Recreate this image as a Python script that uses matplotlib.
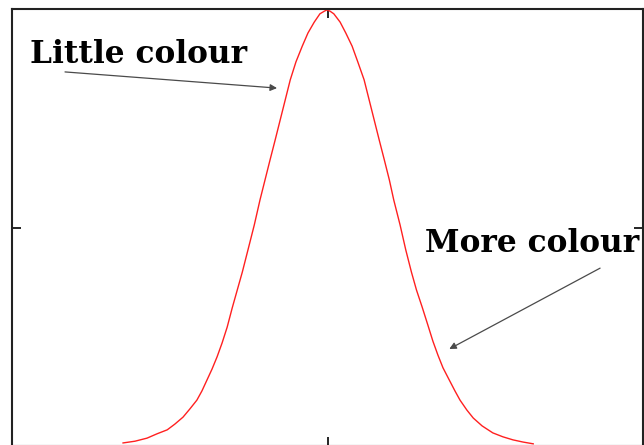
import matplotlib
matplotlib.use("Agg")
import matplotlib.pyplot as plt

# CURVE POINTS #####################################################

curve_x = [1.76, 1.95, 2.14, 2.30, 2.46, 2.58, 2.71, 2.82, 2.93, 3.01,
           3.09, 3.17, 3.25, 3.33, 3.41, 3.49, 3.57, 3.65, 3.74, 3.84,
           3.93, 4.01, 4.09, 4.17, 4.25, 4.33, 4.41, 4.50, 4.60, 4.69,
           4.79, 4.88, 4.95, 4.99,
           5.04, 5.10, 5.20, 5.29, 5.39, 5.48, 5.58, 5.66, 5.74, 5.82,
           5.90, 5.98, 6.05, 6.15, 6.24, 6.33, 6.41, 6.50, 6.59, 6.67,
           6.75, 6.83, 6.93, 7.02, 7.10, 7.21, 7.31, 7.45, 7.62, 7.78,
           7.94, 8.10, 8.26]
curve_y = [0.07, 0.11, 0.18, 0.28, 0.37, 0.50, 0.66, 0.85, 1.05, 1.26,
           1.51, 1.76, 2.04, 2.36, 2.72, 3.16, 3.57, 3.98, 4.49, 5.06,
           5.63, 6.09, 6.55, 7.00, 7.46, 7.92, 8.38, 8.79, 9.15, 9.45,
           9.70, 9.89, 9.95, 9.98,
           9.95, 9.89, 9.70, 9.45, 9.15, 8.79, 8.38, 7.92, 7.46, 7.00,
           6.55, 6.09, 5.63, 5.06, 4.49, 3.98, 3.57, 3.18, 2.77, 2.40,
           2.08, 1.79, 1.51, 1.26, 1.05, 0.82, 0.64, 0.46, 0.30, 0.21,
           0.14, 0.09, 0.05]

# LABELS ###########################################################

labels = ["Little colour", "More colour"]
label_pos = [(0.29, 8.76), (6.55, 4.44)]
arrow_tail = [(0.84, 8.56), (9.32, 4.07)]
arrow_tip = [(4.20, 8.19), (6.93, 2.22)]

# FIGURE ###########################################################

fig = plt.figure(figsize=(6.44, 4.45), dpi=100)
ax = fig.add_axes([12 / 644, -1 / 445, 631 / 644, 437 / 445])

ax.plot(curve_x, curve_y, color="#ff2020", linewidth=1.0)

for text, pos in zip(labels, label_pos):
    ax.text(pos[0], pos[1], text, fontsize=22.5, fontweight="bold",
            family="DejaVu Serif", ha="left", va="baseline")

for tail, tip in zip(arrow_tail, arrow_tip):
    ax.annotate("", xy=tip, xytext=tail,
                arrowprops=dict(arrowstyle="-|>", color="#4a4a4a",
                                lw=0.9, mutation_scale=10,
                                shrinkA=0, shrinkB=0))

ax.set_xlim(0, 10)
ax.set_ylim(0, 10)
ax.set_xticks([5])
ax.set_yticks([5])
ax.tick_params(direction="in", length=6.5, width=1.2,
               top=True, right=True,
               labelbottom=False, labelleft=False)
for spine in ax.spines.values():
    spine.set_linewidth(1.5)
    spine.set_color("#222222")

fig.savefig("out.png", dpi=100)
